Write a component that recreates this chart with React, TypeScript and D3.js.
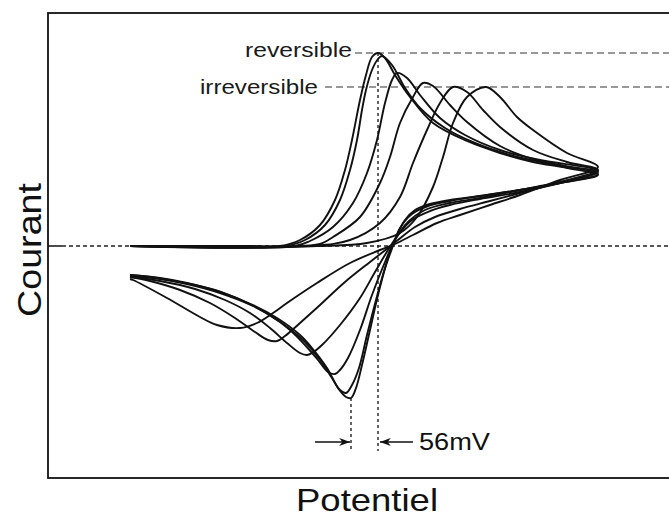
import React from 'react';
import * as d3 from 'd3';

// potentials in mV (vs E°), currents in µA
// forward = anodic sweep left -> right, reverse = back to the start
const c1Forward: [number, number][] = [[-470,0],[-230,0],[-170,0],[-130,3],[-90,10.5],[-60,23],[-40,38],[-26,53],[-10,73],[2,85.5],[14,94.5],[26,96.5],[40,94],[60,85.5],[90,74.5],[136,61.5],[204,52.5],[270,46.5],[336,42],[404,39],[466,35.5]];
const c1Reverse: [number, number][] = [[466,35.5],[390,31.5],[310,28],[230,25],[170,23],[130,21],[100,18],[80,13],[64,5.5],[54,0],[42,-9.5],[26,-24.5],[10,-42],[-6,-59.5],[-18,-71],[-28,-76],[-38,-75.5],[-54,-71],[-76,-61],[-106,-51],[-130,-44.5],[-176,-36],[-224,-29.5],[-290,-23],[-356,-18.5],[-410,-16],[-470,-14.5]];

const c2Forward: [number, number][] = [[-470,0],[-160,0],[-120,3],[-80,10.5],[-50,23],[-30,38],[-16,53],[-6,68],[2,78],[14,88],[26,93.5],[34,95],[54,90.5],[80,79],[110,69],[160,59],[220,51.5],[290,45.5],[370,41],[466,36]];
const c2Reverse: [number, number][] = [[466,36],[390,31.5],[310,28],[230,25],[170,22.5],[126,20],[94,16],[70,9],[56,0],[40,-11],[22,-27],[4,-44.5],[-12,-61],[-26,-69.5],[-38,-73.5],[-50,-72],[-66,-66],[-90,-57],[-120,-48],[-170,-38],[-224,-30],[-290,-23.5],[-356,-19],[-410,-16.5],[-470,-15]];

const c3Forward: [number, number][] = [[-470,0],[-140,0],[-110,2.5],[-64,9.5],[-24,21.5],[4,36.5],[24,53],[40,71.5],[54,83],[64,86.5],[84,84],[110,75.5],[150,64],[200,55.5],[270,48],[350,43],[466,37.5]];
const c3Reverse: [number, number][] = [[466,37.5],[390,32],[310,28],[230,24],[170,21.5],[120,18],[86,12],[60,3],[40,-8],[14,-24.5],[-10,-42],[-34,-56],[-50,-62],[-60,-64],[-74,-63],[-94,-57],[-120,-49.5],[-150,-42],[-190,-34.5],[-240,-28],[-300,-22],[-370,-18],[-430,-15.5],[-470,-14.5]];

const c4Forward: [number, number][] = [[-470,0],[-130,0],[-90,1],[-64,4.5],[-10,14.5],[30,31.5],[50,44.5],[70,61.5],[96,74.5],[116,81.5],[136,80],[170,70.5],[204,62],[270,50],[336,43.5],[400,40],[466,37]];
const c4Reverse: [number, number][] = [[466,37],[390,31.5],[310,27],[230,23.5],[170,20.5],[130,17.5],[94,13],[66,5.5],[46,-2],[20,-13],[-10,-26],[-50,-39.5],[-86,-49.5],[-106,-53.5],[-116,-54.5],[-130,-53.5],[-156,-48.5],[-190,-41],[-230,-33.5],[-280,-27],[-340,-21.5],[-410,-17.5],[-470,-15.5]];

const c5Forward: [number, number][] = [[-470,0],[-110,0],[-30,3],[30,11.5],[70,24.5],[96,41.5],[124,58],[150,71.5],[176,79.5],[204,77],[236,68],[270,59.5],[336,48],[404,42],[466,38]];
const c5Reverse: [number, number][] = [[466,38],[390,32],[310,26.5],[250,22.5],[190,18.5],[140,14.5],[100,9.5],[66,3],[46,-1],[10,-8],[-40,-18],[-90,-29.5],[-130,-38.5],[-160,-45],[-176,-47.5],[-194,-47],[-220,-43],[-260,-36],[-310,-28.5],[-370,-22],[-430,-17.5],[-470,-15.5]];

const c6Forward: [number, number][] = [[-470,0],[-96,0],[4,1.5],[70,6.5],[104,14.5],[136,29.5],[156,44.5],[176,61.5],[204,74.5],[242,79.5],[270,74.5],[304,64.5],[336,58],[404,46.5],[466,39.5]];
const c6Reverse: [number, number][] = [[466,39.5],[390,33],[310,25.5],[250,20.5],[190,15.5],[144,11.5],[96,5.5],[60,1],[30,-2],[-30,-8.5],[-96,-18.5],[-156,-28.5],[-184,-33.5],[-216,-38.5],[-250,-41],[-296,-39.5],[-330,-35.5],[-396,-26],[-464,-17],[-470,-16.5]];

const forwards = [c1Forward, c2Forward, c3Forward, c4Forward, c5Forward, c6Forward];
const reverses = [c1Reverse, c2Reverse, c3Reverse, c4Reverse, c5Reverse, c6Reverse];

// reversible peaks (mV, µA) and the irreversible peak current
const epaRev = 26, ipaRev = 96.5;
const epcRev = -28, ipcRev = -76;
const ipaIrrev = 79.5;

const labelRev = 'reversible';
const labelIrrev = 'irreversible';
const labelDelta = '56mV';
const xTitle = 'Potentiel';
const yTitle = 'Courant';

const W = 669, H = 517;
const font = '"Liberation Sans", Arial, Helvetica, sans-serif';

export default function App() {
  const x = d3.scaleLinear().domain([-634, 608]).range([48, 669]);
  const y = d3.scaleLinear().domain([-116, 116.5]).range([478, 13]);

  const line = d3.line<[number, number]>()
    .x(d => x(d[0]))
    .y(d => y(d[1]))
    .curve(d3.curveCatmullRom.alpha(0.5));

  const y0 = y(0);
  const xa = x(epaRev), xc = x(epcRev);
  const arrowY = 442;

  return (
    <svg width={W} height={H} style={{position: 'absolute', left: 0, top: 0, background: '#fff'}}>
      <defs>
        <marker id="ah" viewBox="0 0 12 10" refX="12" refY="5" markerWidth="12" markerHeight="9" markerUnits="userSpaceOnUse" orient="auto">
          <path d="M0,0.5 L12,5 L0,9.5 L3.5,5 Z" fill="#111" />
        </marker>
      </defs>

      {/* frame, right side runs off the picture */}
      <rect x={48} y={13} width={640} height={465} fill="none" stroke="#111" strokeWidth={1.8} />

      {/* zero current */}
      <line x1={48} x2={62} y1={y0} y2={y0} stroke="#111" strokeWidth={1.5} />
      <line x1={62} x2={669} y1={y0} y2={y0} stroke="#222" strokeWidth={1.4} strokeDasharray="4,3" />

      {/* peak guides */}
      <line x1={355} x2={669} y1={y(ipaRev)} y2={y(ipaRev)} stroke="#333" strokeWidth={1.1} strokeDasharray="7,4" />
      <line x1={325} x2={669} y1={y(ipaIrrev)} y2={y(ipaIrrev)} stroke="#333" strokeWidth={1.1} strokeDasharray="7,4" />
      <line x1={xa} x2={xa} y1={y(ipaRev)} y2={451} stroke="#222" strokeWidth={1.4} strokeDasharray="3,3" />
      <line x1={xc} x2={xc} y1={y(ipcRev)} y2={451} stroke="#222" strokeWidth={1.4} strokeDasharray="3,3" />

      {/* voltammograms */}
      {forwards.map((f, i) => (
        <path key={i} d={line(f.concat(reverses[i].slice(1))) || ''} fill="none" stroke="#111" strokeWidth={1.9} strokeLinejoin="round" />
      ))}

      {/* 56 mV */}
      <line x1={315} x2={xc - 1} y1={arrowY} y2={arrowY} stroke="#111" strokeWidth={1.4} markerEnd="url(#ah)" />
      <line x1={413} x2={xa + 2} y1={arrowY} y2={arrowY} stroke="#111" strokeWidth={1.4} markerEnd="url(#ah)" />
      <text x={419} y={450} fontFamily={font} fontSize={23} fill="#111" textLength={71} lengthAdjust="spacingAndGlyphs">{labelDelta}</text>

      <text x={245} y={57} fontFamily={font} fontSize={20} fill="#1a1a1a" textLength={107} lengthAdjust="spacingAndGlyphs">{labelRev}</text>
      <text x={200} y={94} fontFamily={font} fontSize={20} fill="#1a1a1a" textLength={118} lengthAdjust="spacingAndGlyphs">{labelIrrev}</text>

      <text x={296} y={511} fontFamily={font} fontSize={32} fill="#111" textLength={142} lengthAdjust="spacingAndGlyphs">{xTitle}</text>
      <text transform="translate(41,250) rotate(-90)" textAnchor="middle" fontFamily={font} fontSize={34} fill="#111" textLength={134} lengthAdjust="spacingAndGlyphs">{yTitle}</text>
    </svg>
  );
}
